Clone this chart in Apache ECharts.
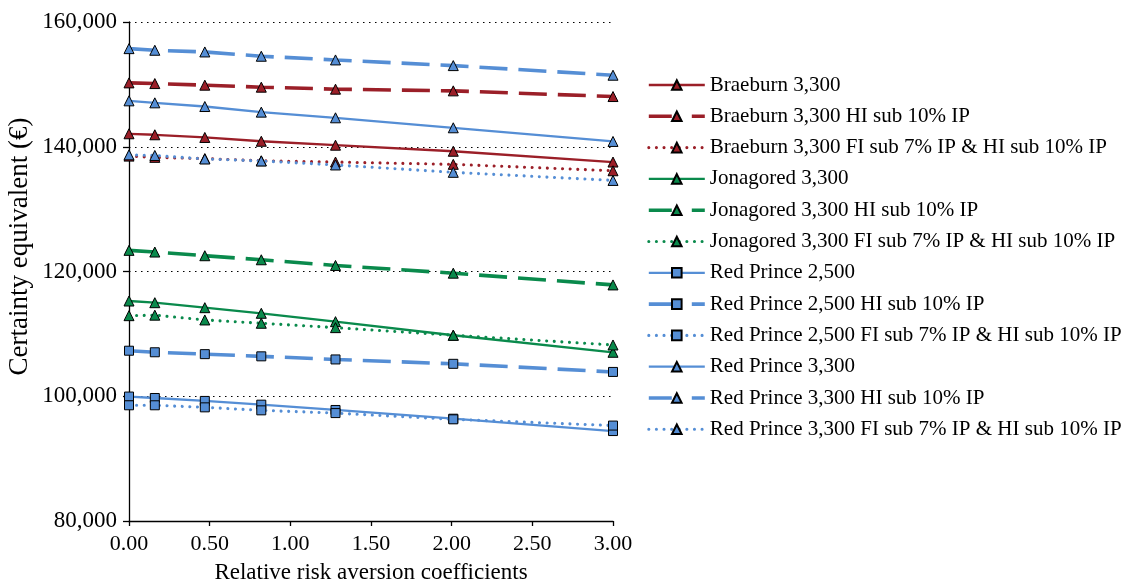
<!DOCTYPE html>
<html>
<head>
<meta charset="utf-8">
<script src="https://cdn.jsdelivr.net/npm/echarts@6/dist/echarts.min.js"></script>
<style>
html,body{margin:0;padding:0;background:#fff;}
#chart{width:1128px;height:586px;}
</style>
</head>
<body>
<div id="chart"></div>
<script>
var xs = [0, 0.16, 0.47, 0.82, 1.28, 2.01, 3.00];

var braeburn    = [142080, 141920, 141490, 140880, 140250, 139280, 137550];
var braeburnHI  = [150240, 150130, 149870, 149550, 149230, 148960, 148050];
var braeburnFI  = [138500, 138300, 138100, 137750, 137550, 137180, 136150];
var jonagored   = [115270, 115000, 114200, 113300, 111960, 109780, 107050];
var jonagoredHI = [123390, 123120, 122530, 121880, 120970, 119730, 117850];
var jonagoredFI = [112920, 113000, 112230, 111700, 111000, 109780, 108220];
var rp2500      = [99950, 99720, 99250, 98650, 97800, 96400, 94420];
var rp2500HI    = [107300, 107050, 106750, 106400, 105900, 105200, 103900];
var rp2500FI    = [98550, 98550, 98220, 97740, 97300, 96300, 95300];
var rp3300      = [147360, 147040, 146450, 145550, 144640, 143040, 140850];
var rp3300HI    = [155730, 155470, 155200, 154510, 153920, 153010, 151470];
var rp3300FI    = [138700, 138600, 138040, 137720, 137080, 135900, 134600];

var names = [
  'Braeburn 3,300', 'Braeburn 3,300 HI sub 10% IP', 'Braeburn 3,300 FI sub 7% IP & HI sub 10% IP',
  'Jonagored 3,300', 'Jonagored 3,300 HI sub 10% IP', 'Jonagored 3,300 FI sub 7% IP & HI sub 10% IP',
  'Red Prince 2,500', 'Red Prince 2,500 HI sub 10% IP', 'Red Prince 2,500 FI sub 7% IP & HI sub 10% IP',
  'Red Prince 3,300', 'Red Prince 3,300 HI sub 10% IP', 'Red Prince 3,300 FI sub 7% IP & HI sub 10% IP'
];
var yTicks = [80000, 100000, 120000, 140000, 160000];
var xTicks = [0, 0.5, 1, 1.5, 2, 2.5, 3];

var values = [braeburn, braeburnHI, braeburnFI, jonagored, jonagoredHI, jonagoredFI,
              rp2500, rp2500HI, rp2500FI, rp3300, rp3300HI, rp3300FI];

var RED = '#9b1f28', GREEN = '#0a8a4c', BLUE = '#558ed5';
var colors = [RED, RED, RED, GREEN, GREEN, GREEN, BLUE, BLUE, BLUE, BLUE, BLUE, BLUE];
var symbols = ['triangle','triangle','triangle','triangle','triangle','triangle','rect','rect','rect','triangle','triangle','triangle'];
var styles = ['solid','dashed','dotted'];

var FONT = '"Liberation Serif", "Times New Roman", serif';

function fmt(v){ return String(v).replace(/\B(?=(\d{3})+(?!\d))/g, ','); }

function lineStyleFor(i){
  var st = styles[i % 3];
  var ls = { color: colors[i] };
  if (st === 'solid') { ls.width = 2.3; ls.type = 'solid'; }
  else if (st === 'dashed') { ls.width = 3.6; ls.type = [28, 11]; ls.cap = 'butt'; }
  else { ls.width = 3.1; ls.type = [0.01, 7.6]; ls.cap = 'round'; }
  return ls;
}

var series = values.map(function(arr, i){
  return {
    name: names[i],
    type: 'line',
    data: xs.map(function(x, k){ return [x, arr[k]]; }),
    symbol: symbols[i],
    symbolSize: symbols[i] === 'rect' ? 9 : 10,
    showAllSymbol: true,
    lineStyle: lineStyleFor(i),
    itemStyle: { color: colors[i], borderColor: '#000', borderWidth: 1 },
    emphasis: { disabled: true },
    z: 2 + i
  };
});

var legendData = names.map(function(n, i){
  var ls = lineStyleFor(i);
  if (styles[i % 3] === 'dashed') { ls.type = [23, 20]; }
  return { name: n, lineStyle: ls };
});

var chart = echarts.init(document.getElementById('chart'), null, { renderer: 'canvas' });
chart.setOption({
  animation: false,
  backgroundColor: '#fff',
  grid: { left: 129, right: 515, top: 22, bottom: 65, containLabel: false, outerBoundsMode: 'none' },
  legend: {
    orient: 'vertical',
    left: 647,
    top: 74,
    padding: 0,
    itemWidth: 56,
    itemHeight: 12,
    itemGap: 9.3,
    data: legendData,
    textStyle: { fontFamily: FONT, fontSize: 21, color: '#000', lineHeight: 22 },
    selectedMode: false
  },
  xAxis: {
    type: 'value',
    min: 0, max: 3, interval: 0.5,
    axisLine: { show: true, onZero: false, lineStyle: { color: '#000', width: 1.3 } },
    axisTick: { show: true, length: 5, lineStyle: { color: '#000', width: 1.3 } },
    axisLabel: { fontFamily: FONT, fontSize: 22, color: '#000', margin: 12,
      formatter: function(v){ return v.toFixed(2); } },
    splitLine: { show: false },
    name: 'Relative risk aversion coefficients',
    nameLocation: 'middle',
    nameGap: 40,
    nameTextStyle: { fontFamily: FONT, fontSize: 23, color: '#000' }
  },
  yAxis: {
    type: 'value',
    min: 80000, max: 160000, interval: 20000,
    axisLine: { show: true, lineStyle: { color: '#000', width: 1.3 } },
    axisTick: { show: true, length: 6, lineStyle: { color: '#000', width: 1.3 } },
    axisLabel: { fontFamily: FONT, fontSize: 23, color: '#000', margin: 12,
      formatter: function(v){ return fmt(v); } },
    splitLine: { show: true, lineStyle: { color: '#000', width: 1.2, type: [1.5, 4.5] } },
    name: 'Certainty equivalent (€)',
    nameLocation: 'middle',
    nameGap: 96,
    nameTextStyle: { fontFamily: FONT, fontSize: 27, color: '#000', padding: [0, 0, 0, 50] }
  },
  series: series
});
</script>
</body>
</html>
